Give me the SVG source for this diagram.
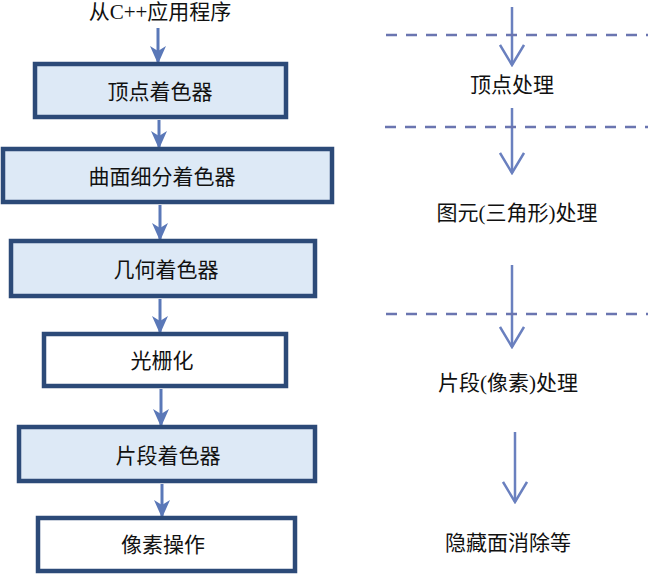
<svg xmlns="http://www.w3.org/2000/svg" width="648" height="574" viewBox="0 0 648 574">
<defs>
<marker id="tri" viewBox="0 0 18 16" refX="16" refY="8" markerWidth="18" markerHeight="16" markerUnits="userSpaceOnUse" orient="auto">
<path d="M0,0 L18,8 L0,16 L5,8 Z" fill="#5a78b8"/>
</marker>
<marker id="vee" viewBox="0 0 24 26" refX="22" refY="13" markerWidth="24" markerHeight="26" markerUnits="userSpaceOnUse" orient="auto">
<path d="M2,1 L22,13 L2,25" fill="none" stroke="#6a80bf" stroke-width="2.5"/>
</marker>
</defs>
<style>
.box{stroke:#2c4a78;stroke-width:4.5}
.blue{fill:#dde9f6}
.white{fill:#ffffff}
.t{font-family:"Liberation Serif","Noto Sans CJK SC",serif;font-size:21px;fill:#111;text-anchor:middle;dominant-baseline:central}
.la{stroke:#5a78b8;stroke-width:3;fill:none}
.ra{stroke:#6a80bf;stroke-width:2.5;fill:none}
.dash{stroke:#6a75b0;stroke-width:2.5;stroke-dasharray:11 9;fill:none}
</style>
<rect width="648" height="574" fill="#ffffff"/>
<g id="connectors">
<line class="la" x1="158" y1="28" x2="158" y2="62" marker-end="url(#tri)"/>
<line class="la" x1="159" y1="120" x2="159" y2="147" marker-end="url(#tri)"/>
<line class="la" x1="160" y1="205" x2="160" y2="239" marker-end="url(#tri)"/>
<line class="la" x1="160" y1="299" x2="160" y2="332" marker-end="url(#tri)"/>
<line class="la" x1="161" y1="389" x2="161" y2="425" marker-end="url(#tri)"/>
<line class="la" x1="162" y1="484" x2="162" y2="516" marker-end="url(#tri)"/>
<line class="ra" x1="512" y1="7" x2="512" y2="65" marker-end="url(#vee)"/>
<line class="ra" x1="512" y1="108" x2="512" y2="173" marker-end="url(#vee)"/>
<line class="ra" x1="512" y1="265" x2="512" y2="347" marker-end="url(#vee)"/>
<line class="ra" x1="515" y1="432" x2="515" y2="502" marker-end="url(#vee)"/>
<line class="dash" x1="386" y1="35" x2="648" y2="35"/>
<line class="dash" x1="385" y1="127" x2="648" y2="127"/>
<line class="dash" x1="386" y1="314" x2="648" y2="314"/>
</g>
<g id="source"><text class="t" x="160" y="12">从C++应用程序</text></g>
<g id="vertex-shader"><rect class="box blue" x="35" y="64" width="251" height="53"/><text class="t" x="160" y="92">顶点着色器</text></g>
<g id="tess-shader"><rect class="box blue" x="3" y="149" width="329" height="53"/><text class="t" x="162" y="177">曲面细分着色器</text></g>
<g id="geom-shader"><rect class="box blue" x="11" y="241" width="304" height="55"/><text class="t" x="166" y="270">几何着色器</text></g>
<g id="raster"><rect class="box white" x="44" y="334" width="242" height="52"/><text class="t" x="162" y="361">光栅化</text></g>
<g id="frag-shader"><rect class="box blue" x="19" y="427" width="296" height="54"/><text class="t" x="168" y="456">片段着色器</text></g>
<g id="pixel-ops"><rect class="box white" x="38" y="518" width="257" height="53"/><text class="t" x="163" y="545">像素操作</text></g>
<g id="vertex-proc"><text class="t" x="512" y="85">顶点处理</text></g>
<g id="prim-proc"><text class="t" x="517" y="213">图元(三角形)处理</text></g>
<g id="frag-proc"><text class="t" x="508" y="383">片段(像素)处理</text></g>
<g id="hsr"><text class="t" x="508" y="543">隐藏面消除等</text></g>
</svg>
